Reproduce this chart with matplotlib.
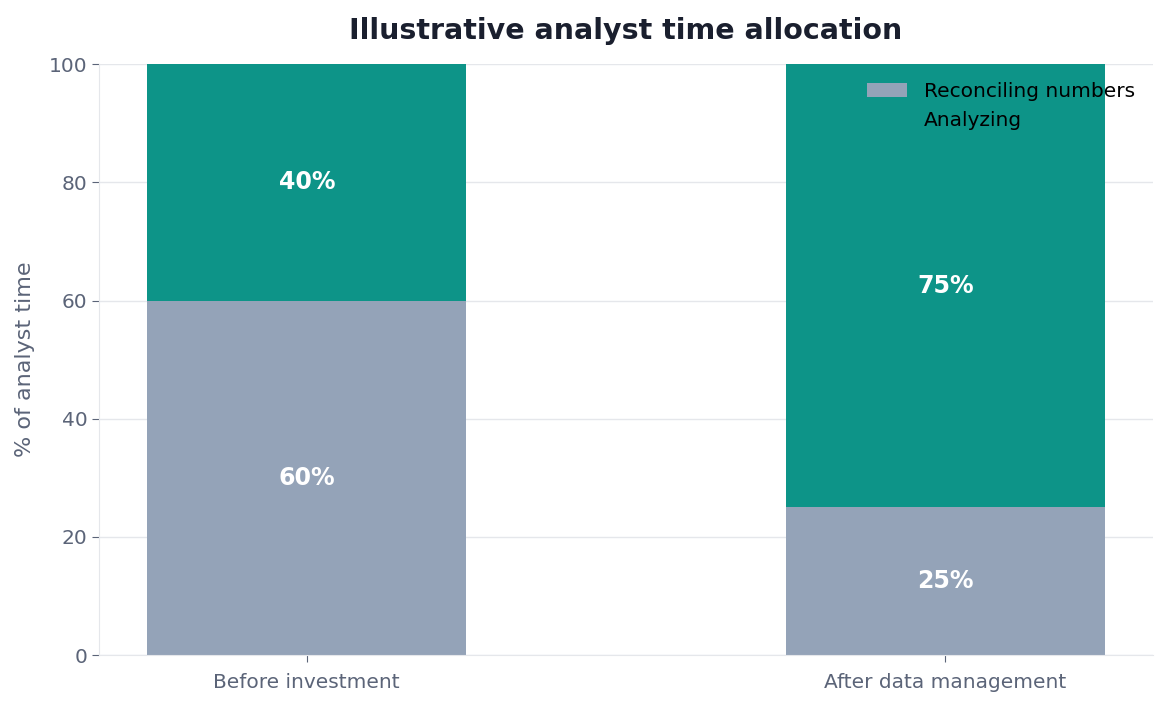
import matplotlib
matplotlib.use("Agg")
import matplotlib.pyplot as plt
import numpy as np

categories = ["Before investment", "After data management"]
reconciling = [60, 25]
analyzing = [40, 75]
series_names = ["Reconciling numbers", "Analyzing"]
colors = ["#94a3b8", "#0d9488"]

fig, ax = plt.subplots(figsize=(11.68, 7.06), dpi=100)
fig.subplots_adjust(left=0.085, right=0.987, top=0.909, bottom=0.072)

x = np.arange(len(categories))
w = 0.5
b1 = ax.bar(x, reconciling, w, color=colors[0], label=series_names[0], zorder=2)
b2 = ax.bar(x, analyzing, w, bottom=reconciling, color=colors[1], label=series_names[1], zorder=2)

for bars, vals, bots in [(b1, reconciling, [0]*len(reconciling)), (b2, analyzing, reconciling)]:
    for rect, v, b in zip(bars, vals, bots):
        ax.text(rect.get_x() + rect.get_width()/2, b + v/2, f"{v}%", ha="center", va="center",
                color="white", fontsize=17, fontweight="bold", zorder=3)

ax.set_ylim(0, 100)
ax.set_xticks(x)
ax.set_xticklabels(categories)
ax.set_ylabel("% of analyst time", fontsize=16, color="#5b6478", labelpad=10)
ax.set_title("Illustrative analyst time allocation", fontsize=20.5, fontweight="bold", color="#1a1f2e", pad=18)
ax.tick_params(axis="both", colors="#5b6478", labelsize=14.5, length=5)
ax.tick_params(axis="x", pad=8)
ax.yaxis.grid(True, color="#e5e7eb", linewidth=1, zorder=0)
ax.set_axisbelow(True)
for s in ["top", "right"]:
    ax.spines[s].set_visible(False)
for s in ["left", "bottom"]:
    ax.spines[s].set_color("#e5e7eb")
ax.legend(loc="upper right", frameon=False, fontsize=14.5)

fig.savefig("out.png", dpi=100)
